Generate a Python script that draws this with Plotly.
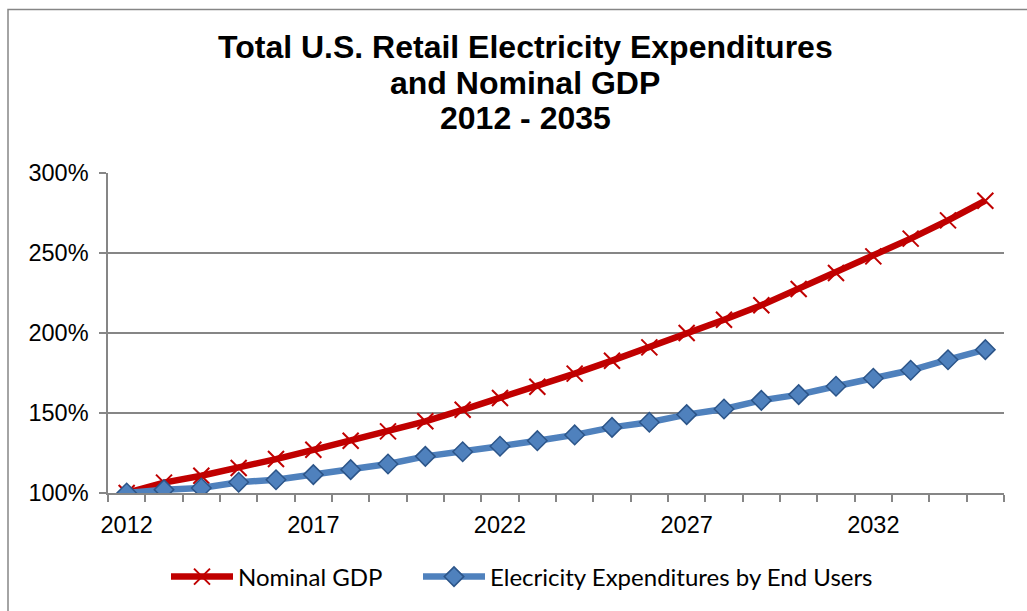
import plotly.graph_objects as go

# Index values (2012 = 100%)
years = list(range(2012, 2036))
nominal_gdp = [100.0, 106.5, 110.8, 115.6, 121.2, 127.0, 132.7, 138.5, 144.8, 152.0,
               159.4, 166.4, 174.6, 182.7, 191.0, 200.0, 208.3, 217.3, 227.5, 237.5,
               247.9, 259.0, 270.4, 282.7]
elec_expenditures = [100.0, 102.1, 103.1, 106.7, 108.3, 111.5, 114.6, 118.1, 122.9, 125.8,
                     129.2, 132.7, 136.3, 141.0, 144.2, 149.0, 152.5, 157.9, 161.5, 166.7,
                     171.7, 176.7, 183.3, 189.6]

x_tick_labels = ["2012", "2017", "2022", "2027", "2032"]
y_tick_values = [100, 150, 200, 250, 300]
y_tick_labels = ["100%", "150%", "200%", "250%", "300%"]

title_lines = ["Total U.S. Retail Electricity Expenditures", "and Nominal GDP", "2012 - 2035"]

AXIS_GRAY = "#868686"
PLOT_L, PLOT_W, PLOT_B, PLOT_H = 108, 896, 493, 320


def px_x(px):
    return (px - PLOT_L) / PLOT_W


def px_y(py):
    return (PLOT_B - py) / PLOT_H


fig = go.Figure()

fig.add_trace(go.Scatter(
    x=years, y=nominal_gdp, name="Nominal GDP",
    mode="lines+markers", legend="legend",
    line=dict(color="#C00000", width=6.5),
    marker=dict(symbol="x-thin", size=16, color="#C00000",
                line=dict(color="#C00000", width=2)),
))

fig.add_trace(go.Scatter(
    x=years, y=elec_expenditures, name="Elecricity Expenditures by End Users",
    mode="lines+markers", legend="legend2",
    line=dict(color="#4F81BD", width=6.5),
    marker=dict(symbol="diamond", size=15, color="#4F81BD",
                line=dict(color="#2C5589", width=1.5)),
))

legend_font = dict(family="Lato, Calibri, sans-serif", size=24, color="black")
legend_common = dict(orientation="h", xanchor="left", y=px_y(577), yanchor="middle",
                     font=legend_font, itemwidth=62, bgcolor="rgba(0,0,0,0)")

title_centers = [46.5, 83.5, 118.5]

fig.update_layout(
    width=1027, height=611,
    margin=dict(l=PLOT_L, r=1027 - PLOT_L - PLOT_W, t=PLOT_B - PLOT_H, b=611 - PLOT_B),
    paper_bgcolor="white", plot_bgcolor="white",
    font=dict(family="Liberation Sans, Arial", size=23.5, color="black"),
    showlegend=True,
    legend=dict(x=px_x(166), **legend_common),
    legend2=dict(x=px_x(418), **legend_common),
    annotations=[dict(
        text="<b>" + line + "</b>",
        xref="paper", yref="paper",
        x=px_x(525), xanchor="center",
        y=px_y(cy), yanchor="middle",
        showarrow=False,
        font=dict(family="Liberation Sans, Arial", size=32, color="black"),
    ) for line, cy in zip(title_lines, title_centers)],
    shapes=[dict(
        type="rect", xref="paper", yref="paper",
        x0=px_x(8), x1=px_x(1040),
        y0=px_y(620), y1=px_y(9.5),
        line=dict(color=AXIS_GRAY, width=1.5), fillcolor="rgba(0,0,0,0)",
        layer="below",
    )],
)

fig.update_xaxes(
    type="linear", range=[2011.5, 2035.5],
    tickvals=[int(v) for v in x_tick_labels], ticktext=x_tick_labels,
    ticks="", showgrid=False, zeroline=False,
    showline=True, linecolor=AXIS_GRAY, linewidth=1.5,
    ticklabelstandoff=10,
    minor=dict(ticks="outside", tick0=2011.5, dtick=1, ticklen=7,
               tickcolor=AXIS_GRAY, tickwidth=1.5, showgrid=False),
)

fig.update_yaxes(
    range=[100, 300],
    tickvals=y_tick_values, ticktext=y_tick_labels,
    ticks="outside", ticklen=7, tickcolor=AXIS_GRAY, tickwidth=1.5,
    showgrid=True, gridcolor=AXIS_GRAY, gridwidth=1.5, zeroline=False,
    showline=True, linecolor=AXIS_GRAY, linewidth=1.5,
    ticklabelstandoff=6,
)

fig.write_html("out.html")
